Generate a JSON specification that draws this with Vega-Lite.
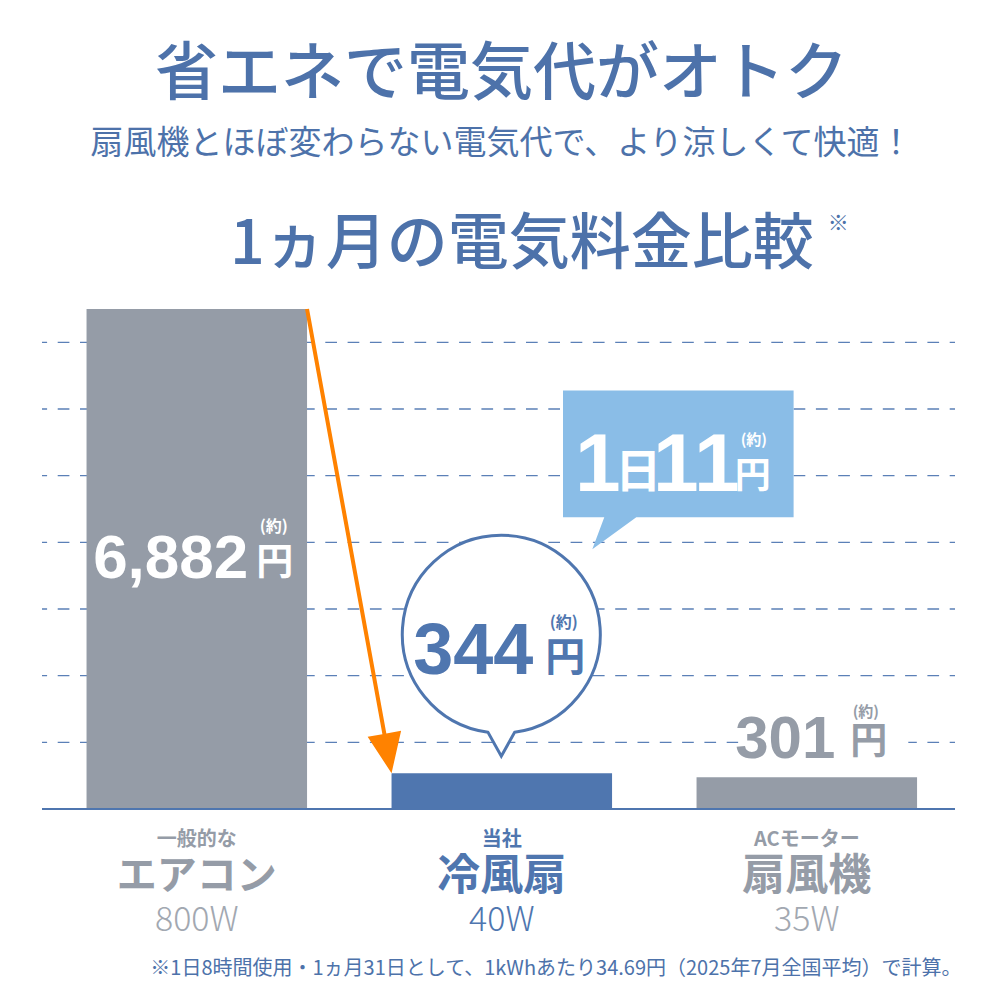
{
  "$schema": "https://vega.github.io/schema/vega-lite/v6.json",
  "background": "white",
  "padding": {"left": 41, "top": 44, "right": 10, "bottom": 0},
  "title": {
    "text": "省エネで電気代がオトク",
    "subtitle": "扇風機とほぼ変わらない電気代で、より涼しくて快適！",
    "anchor": "middle",
    "frame": "group",
    "dx": 3,
    "font": "Noto Sans CJK JP",
    "fontSize": 63,
    "fontWeight": 500,
    "color": "#4d72aa",
    "subtitleFont": "Noto Sans CJK JP",
    "subtitleFontSize": 33,
    "subtitleFontWeight": 400,
    "subtitleColor": "#4d72aa",
    "subtitlePadding": 21,
    "offset": 52
  },
  "vconcat": [
    {
      "width": 913,
      "height": 500,
      "resolve": {"scale": {"y": "independent"}},
      "layer": [
        {
          "data": {"values": [{"level": 1}, {"level": 2}, {"level": 3}, {"level": 4}, {"level": 5}, {"level": 6}, {"level": 7}]},
          "mark": {"type": "rule", "color": "#5b80b7", "strokeWidth": 1.4, "strokeDash": [11.7, 10.6], "strokeDashOffset": 6.4},
          "encoding": {
            "y": {"field": "level", "type": "quantitative", "scale": {"domain": [0, 7.5], "nice": false}}
          }
        },
        {
          "data": {
            "values": [
              {"cat": "エアコン", "value": 6882, "label": "6,882", "sub": "一般的な", "watt": "800W"},
              {"cat": "冷風扇", "value": 344, "label": "344", "sub": "当社", "watt": "40W", "day": "1", "daily": "11"},
              {"cat": "扇風機", "value": 301, "label": "301", "sub": "ACモーター", "watt": "35W"}
            ]
          },
          "layer": [
            {
              "mark": {"type": "bar"},
              "encoding": {
                "x": {
                  "field": "cat",
                  "type": "nominal",
                  "sort": null,
                  "scale": {"domain": ["エアコン", "冷風扇", "扇風機"], "paddingInner": 0.277, "paddingOuter": 0.1352, "align": 0.54},
                  "axis": {
                    "title": "※1日8時間使用・1ヵ月31日として、1kWhあたり34.69円（2025年7月全国平均）で計算。",
                    "labels": false,
                    "ticks": false,
                    "domain": false,
                    "grid": false,
                    "titleFont": "Noto Sans CJK JP",
                    "titleFontSize": 20,
                    "titleFontWeight": "normal",
                    "titleColor": "#4d72aa",
                    "titleAlign": "right",
                    "titleBaseline": "middle",
                    "titleX": 919,
                    "titleY": 159
                  }
                },
                "y": {"field": "value", "type": "quantitative", "scale": {"type": "pow", "exponent": 0.88, "domain": [0, 6882], "nice": false}},
                "color": {"field": "cat", "type": "nominal", "scale": {"domain": ["エアコン", "冷風扇", "扇風機"], "range": ["#959ca7", "#4f76af", "#959ca7"]}, "legend": null}
              }
            },
            {
              "transform": [{"filter": "datum.cat === 'エアコン'"}],
              "mark": {"type": "rule", "color": "#4f76af", "strokeWidth": 2},
              "encoding": {"y": {"datum": 0, "type": "quantitative"}}
            },
            {
              "transform": [{"filter": "datum.cat === '冷風扇'"}],
              "mark": {"type": "point", "shape": "M -0.7711 -1.8582 L -0.4618 -0.1589 L -0.4027 -0.1696 L -0.441 0 L -0.5366 -0.1453 L -0.4775 -0.156 L -0.7869 -1.8554 Z", "size": 250000, "filled": true, "fill": "#ff8200", "strokeWidth": 0, "opacity": 1},
              "encoding": {
                "x": {"field": "cat", "type": "nominal"},
                "y": {"field": "value", "type": "quantitative"}
              }
            },
            {
              "transform": [{"filter": "datum.cat === '冷風扇'"}],
              "mark": {"type": "point", "shape": "M -0.138 -0.409 A 0.99 0.99 0 1 1 0.128 -0.409 L -0.005 -0.17 Z", "size": 40000, "filled": true, "fill": "white", "stroke": "#4f76af", "strokeWidth": 3, "opacity": 1},
              "encoding": {
                "x": {"field": "cat", "type": "nominal"},
                "y": {"field": "value", "type": "quantitative"}
              }
            },
            {
              "transform": [{"filter": "datum.cat === '冷風扇'"}],
              "mark": {"type": "point", "shape": "M 0.306 -1.9135 L 1.459 -1.9135 L 1.459 -1.28 L 0.6725 -1.28 L 0.4525 -1.12 L 0.5125 -1.28 L 0.306 -1.28 Z", "size": 160000, "filled": true, "fill": "#8abde7", "strokeWidth": 0, "opacity": 1},
              "encoding": {
                "x": {"field": "cat", "type": "nominal"},
                "y": {"field": "value", "type": "quantitative"}
              }
            },
            {
              "transform": [{"filter": "datum.cat === '扇風機'"}],
              "mark": {"type": "point", "shape": "M -0.685 -0.447 L 1.015 -0.447 L 1.015 -0.267 L -0.685 -0.267 Z", "size": 40000, "filled": true, "fill": "white", "strokeWidth": 0, "opacity": 1},
              "encoding": {
                "x": {"field": "cat", "type": "nominal"},
                "y": {"field": "value", "type": "quantitative"}
              }
            },
            {
              "transform": [{"filter": "datum.cat === '冷風扇'"}],
              "mark": {"type": "text", "text": "1ヵ月の電気料金比較", "fontSize": 61, "fontWeight": 500, "color": "#4d72aa", "align": "center", "baseline": "middle", "dx": 20, "dy": -63},
              "encoding": {"x": {"field": "cat", "type": "nominal"}, "y": {"datum": 6882, "type": "quantitative"}}
            },
            {
              "transform": [{"filter": "datum.cat === '扇風機'"}],
              "mark": {"type": "text", "text": "※", "fontSize": 21, "color": "#4d72aa", "align": "center", "baseline": "middle", "dx": 31.5, "dy": -85},
              "encoding": {"x": {"field": "cat", "type": "nominal"}, "y": {"datum": 6882, "type": "quantitative"}}
            },
            {
              "transform": [{"filter": "datum.cat === 'エアコン'"}],
              "mark": {"type": "text", "font": "Liberation Sans", "fontSize": 62, "fontWeight": "bold", "color": "white", "align": "right", "baseline": "alphabetic", "dx": 51.5, "dy": 269.3},
              "encoding": {"x": {"field": "cat", "type": "nominal"}, "y": {"field": "value", "type": "quantitative"}, "text": {"field": "label"}}
            },
            {
              "transform": [{"filter": "datum.cat === 'エアコン'"}],
              "mark": {"type": "text", "text": "円", "fontSize": 37, "fontWeight": "bold", "color": "white", "align": "left", "baseline": "alphabetic", "dx": 59.5, "dy": 266},
              "encoding": {"x": {"field": "cat", "type": "nominal"}, "y": {"field": "value", "type": "quantitative"}}
            },
            {
              "transform": [{"filter": "datum.cat === 'エアコン'"}],
              "mark": {"type": "text", "text": "(約)", "fontSize": 16, "fontWeight": "bold", "color": "white", "align": "center", "baseline": "middle", "dx": 77, "dy": 218},
              "encoding": {"x": {"field": "cat", "type": "nominal"}, "y": {"field": "value", "type": "quantitative"}}
            },
            {
              "transform": [{"filter": "datum.cat === '冷風扇'"}],
              "mark": {"type": "text", "font": "Liberation Sans", "fontSize": 72, "fontWeight": "bold", "color": "#4f76af", "align": "right", "baseline": "alphabetic", "dx": 31.5, "dy": -99},
              "encoding": {"x": {"field": "cat", "type": "nominal"}, "y": {"field": "value", "type": "quantitative"}, "text": {"field": "label"}}
            },
            {
              "transform": [{"filter": "datum.cat === '冷風扇'"}],
              "mark": {"type": "text", "text": "円", "fontSize": 40, "fontWeight": "bold", "color": "#4f76af", "align": "left", "baseline": "alphabetic", "dx": 43.5, "dy": -102},
              "encoding": {"x": {"field": "cat", "type": "nominal"}, "y": {"field": "value", "type": "quantitative"}}
            },
            {
              "transform": [{"filter": "datum.cat === '冷風扇'"}],
              "mark": {"type": "text", "text": "(約)", "fontSize": 16, "fontWeight": "bold", "color": "#4f76af", "align": "center", "baseline": "middle", "dx": 62, "dy": -150.5},
              "encoding": {"x": {"field": "cat", "type": "nominal"}, "y": {"field": "value", "type": "quantitative"}}
            },
            {
              "transform": [{"filter": "datum.cat === '冷風扇'"}],
              "mark": {"type": "text", "font": "Liberation Sans", "fontSize": 82, "fontWeight": "bold", "color": "white", "align": "center", "baseline": "alphabetic", "dx": 96, "dy": -282},
              "encoding": {"x": {"field": "cat", "type": "nominal"}, "y": {"field": "value", "type": "quantitative"}, "text": {"field": "day"}}
            },
            {
              "transform": [{"filter": "datum.cat === '冷風扇'"}],
              "mark": {"type": "text", "text": "日", "fontSize": 46, "fontWeight": "bold", "color": "white", "align": "center", "baseline": "alphabetic", "dx": 136.5, "dy": -286},
              "encoding": {"x": {"field": "cat", "type": "nominal"}, "y": {"field": "value", "type": "quantitative"}}
            },
            {
              "transform": [{"filter": "datum.cat === '冷風扇'"}],
              "mark": {"type": "text", "font": "Liberation Sans", "fontSize": 82, "fontWeight": "bold", "color": "white", "align": "center", "baseline": "alphabetic", "dx": 194.5, "dy": -282},
              "encoding": {"x": {"field": "cat", "type": "nominal"}, "y": {"field": "value", "type": "quantitative"}, "text": {"field": "daily"}}
            },
            {
              "transform": [{"filter": "datum.cat === '冷風扇'"}],
              "mark": {"type": "text", "text": "円", "fontSize": 36, "fontWeight": "bold", "color": "white", "align": "center", "baseline": "alphabetic", "dx": 251, "dy": -285},
              "encoding": {"x": {"field": "cat", "type": "nominal"}, "y": {"field": "value", "type": "quantitative"}}
            },
            {
              "transform": [{"filter": "datum.cat === '冷風扇'"}],
              "mark": {"type": "text", "text": "(約)", "fontSize": 15, "fontWeight": "bold", "color": "white", "align": "center", "baseline": "middle", "dx": 252, "dy": -333.5},
              "encoding": {"x": {"field": "cat", "type": "nominal"}, "y": {"field": "value", "type": "quantitative"}}
            },
            {
              "transform": [{"filter": "datum.cat === '扇風機'"}],
              "mark": {"type": "text", "font": "Liberation Sans", "fontSize": 60, "fontWeight": "bold", "color": "#959ca7", "align": "right", "baseline": "alphabetic", "dx": 28.5, "dy": -18.7},
              "encoding": {"x": {"field": "cat", "type": "nominal"}, "y": {"field": "value", "type": "quantitative"}, "text": {"field": "label"}}
            },
            {
              "transform": [{"filter": "datum.cat === '扇風機'"}],
              "mark": {"type": "text", "text": "円", "fontSize": 37, "fontWeight": "bold", "color": "#959ca7", "align": "left", "baseline": "alphabetic", "dx": 43.5, "dy": -22.7},
              "encoding": {"x": {"field": "cat", "type": "nominal"}, "y": {"field": "value", "type": "quantitative"}}
            },
            {
              "transform": [{"filter": "datum.cat === '扇風機'"}],
              "mark": {"type": "text", "text": "(約)", "fontSize": 15, "fontWeight": "bold", "color": "#959ca7", "align": "center", "baseline": "middle", "dx": 59, "dy": -65.2},
              "encoding": {"x": {"field": "cat", "type": "nominal"}, "y": {"field": "value", "type": "quantitative"}}
            },
            {
              "mark": {"type": "text", "fontSize": 20, "fontWeight": "bold", "align": "center", "baseline": "middle", "dy": 31},
              "encoding": {
                "x": {"field": "cat", "type": "nominal"},
                "y": {"datum": 0, "type": "quantitative"},
                "text": {"field": "sub"},
                "color": {"condition": {"test": "datum.cat === '冷風扇'", "value": "#4f76af"}, "value": "#959ca7"}
              }
            },
            {
              "mark": {"type": "text", "fontWeight": "bold", "align": "center", "baseline": "middle", "dy": 68},
              "encoding": {
                "x": {"field": "cat", "type": "nominal"},
                "y": {"datum": 0, "type": "quantitative"},
                "text": {"field": "cat"},
                "size": {"condition": {"test": "datum.cat === 'エアコン'", "value": 40}, "value": 43},
                "color": {"condition": {"test": "datum.cat === '冷風扇'", "value": "#4f76af"}, "value": "#959ca7"}
              }
            },
            {
              "mark": {"type": "text", "fontSize": 34, "fontWeight": 300, "align": "center", "baseline": "middle", "dy": 112},
              "encoding": {
                "x": {"field": "cat", "type": "nominal"},
                "y": {"datum": 0, "type": "quantitative"},
                "text": {"field": "watt"},
                "color": {"condition": {"test": "datum.cat === '冷風扇'", "value": "#4f76af"}, "value": "#a2a8b1"}
              }
            }
          ]
        }
      ]
    }
  ],
  "config": {
    "view": {"stroke": null},
    "font": "Noto Sans CJK JP",
    "axisY": {"disable": true}
  }
}
